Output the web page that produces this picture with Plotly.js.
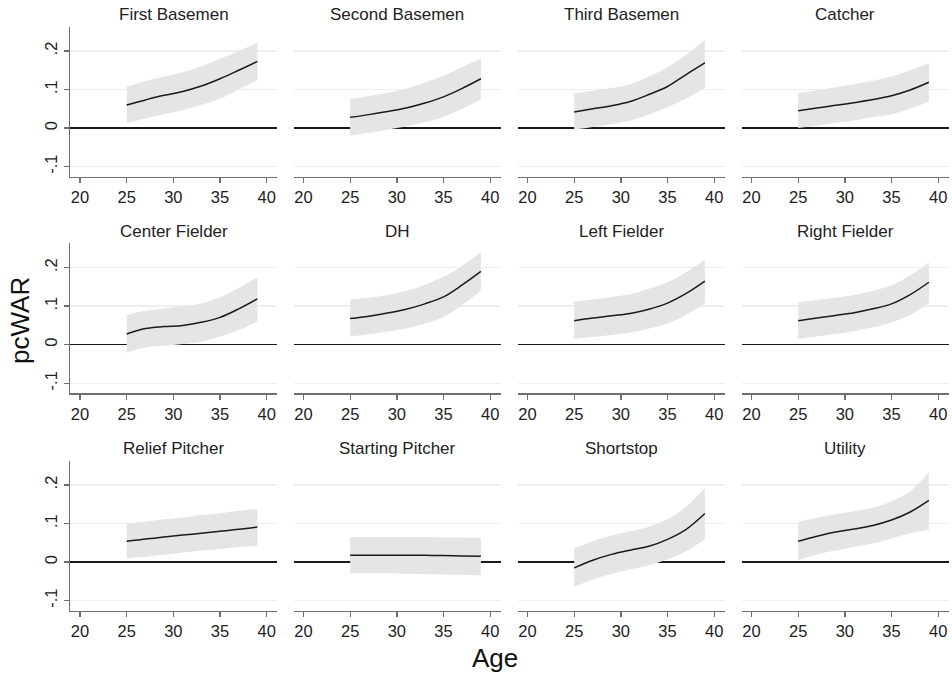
<!DOCTYPE html>
<html>
<head>
<meta charset="utf-8">
<script src="https://cdn.plot.ly/plotly-3.0.1.min.js"></script>
<style>
  html, body { margin: 0; padding: 0; background: #ffffff; }
  #chart { width: 952px; height: 679px; }
</style>
</head>
<body>
<div id="chart"></div>
<script>
// Predicted pcWAR by age, one panel per position, with 95% confidence band
const positions = [
  'First Basemen', 'Second Basemen', 'Third Basemen', 'Catcher',
  'Center Fielder', 'DH', 'Left Fielder', 'Right Fielder',
  'Relief Pitcher', 'Starting Pitcher', 'Shortstop', 'Utility'
];

const ages = [25, 27, 29, 31, 33, 35, 37, 39];

// Fitted values (rows follow `positions`)
const fitValues = [
  [0.060, 0.073, 0.085, 0.095, 0.109, 0.128, 0.150, 0.173],
  [0.028, 0.035, 0.043, 0.052, 0.065, 0.081, 0.103, 0.128],
  [0.042, 0.050, 0.058, 0.069, 0.087, 0.108, 0.139, 0.169],
  [0.045, 0.052, 0.059, 0.066, 0.074, 0.084, 0.099, 0.119],
  [0.028, 0.042, 0.047, 0.050, 0.058, 0.071, 0.093, 0.119],
  [0.068, 0.074, 0.082, 0.092, 0.106, 0.124, 0.155, 0.190],
  [0.062, 0.069, 0.075, 0.081, 0.092, 0.108, 0.133, 0.165],
  [0.062, 0.069, 0.076, 0.083, 0.093, 0.106, 0.130, 0.162],
  [0.054, 0.060, 0.065, 0.070, 0.075, 0.080, 0.085, 0.091],
  [0.018, 0.018, 0.018, 0.018, 0.018, 0.017, 0.016, 0.015],
  [-0.015, 0.005, 0.020, 0.031, 0.041, 0.059, 0.085, 0.126],
  [0.054, 0.067, 0.078, 0.086, 0.095, 0.109, 0.130, 0.160]
];

// Upper confidence limits
const upperValues = [
  [0.107, 0.122, 0.134, 0.145, 0.160, 0.180, 0.200, 0.222],
  [0.076, 0.083, 0.092, 0.102, 0.118, 0.136, 0.158, 0.181],
  [0.090, 0.097, 0.104, 0.114, 0.134, 0.158, 0.190, 0.229],
  [0.091, 0.098, 0.106, 0.114, 0.123, 0.134, 0.150, 0.169],
  [0.077, 0.088, 0.094, 0.099, 0.107, 0.123, 0.147, 0.175],
  [0.117, 0.122, 0.129, 0.139, 0.155, 0.176, 0.205, 0.240],
  [0.112, 0.118, 0.124, 0.131, 0.145, 0.162, 0.188, 0.221],
  [0.110, 0.116, 0.122, 0.129, 0.140, 0.154, 0.180, 0.214],
  [0.100, 0.105, 0.111, 0.116, 0.122, 0.127, 0.133, 0.138],
  [0.065, 0.065, 0.065, 0.065, 0.065, 0.064, 0.064, 0.063],
  [0.035, 0.054, 0.069, 0.080, 0.092, 0.111, 0.144, 0.193],
  [0.105, 0.115, 0.124, 0.132, 0.141, 0.158, 0.184, 0.234]
];

// Lower confidence limits
const lowerValues = [
  [0.013, 0.025, 0.036, 0.047, 0.060, 0.076, 0.100, 0.124],
  [-0.020, -0.012, -0.004, 0.004, 0.015, 0.029, 0.050, 0.075],
  [-0.004, 0.003, 0.010, 0.019, 0.035, 0.054, 0.077, 0.104],
  [0.000, 0.006, 0.013, 0.020, 0.028, 0.036, 0.050, 0.069],
  [-0.020, -0.007, -0.003, 0.002, 0.008, 0.021, 0.038, 0.061],
  [0.021, 0.027, 0.034, 0.042, 0.055, 0.072, 0.103, 0.140],
  [0.015, 0.020, 0.025, 0.031, 0.042, 0.055, 0.078, 0.106],
  [0.015, 0.021, 0.028, 0.035, 0.045, 0.058, 0.078, 0.106],
  [0.009, 0.014, 0.019, 0.025, 0.030, 0.034, 0.039, 0.043],
  [-0.029, -0.029, -0.029, -0.030, -0.031, -0.032, -0.033, -0.035],
  [-0.064, -0.045, -0.030, -0.019, -0.008, 0.007, 0.028, 0.059],
  [0.005, 0.020, 0.030, 0.039, 0.048, 0.061, 0.075, 0.083]
];

const yTickVals = [-0.1, 0, 0.1, 0.2];
const yTickText = ['-.1', '0', '.1', '.2'];
const xTickVals = [20, 25, 30, 35, 40];

// Panel geometry in pixels
const W = 952, H = 679;
const colLeft = [70, 293.5, 517.5, 741.5];
const panelW = 207;
const rowTop = [26.7, 243.3, 460.7];
const panelH = 150;

const FONT = 'Liberation Sans, Arial, sans-serif';
const AXIS_GREY = '#6e6e6e';
const BAND = '#e5e5e5';

const traces = [];
const layout = {
  width: W, height: H,
  margin: {l: 0, r: 0, t: 0, b: 0},
  paper_bgcolor: '#ffffff',
  plot_bgcolor: '#ffffff',
  showlegend: false,
  font: {family: FONT, color: '#222222'},
  annotations: []
};

positions.forEach((name, i) => {
  const row = Math.floor(i / 4), col = i % 4;
  const n = i + 1;
  const xa = 'x' + (n === 1 ? '' : n);
  const ya = 'y' + (n === 1 ? '' : n);
  const xKey = 'xaxis' + (n === 1 ? '' : n);
  const yKey = 'yaxis' + (n === 1 ? '' : n);

  const x0 = colLeft[col] / W, x1 = (colLeft[col] + panelW) / W;
  const y1 = 1 - rowTop[row] / H, y0 = 1 - (rowTop[row] + panelH) / H;

  layout[xKey] = {
    domain: [x0, x1], anchor: ya,
    range: [18.93, 41.1],
    tickvals: xTickVals,
    ticks: 'outside', ticklen: 5, tickwidth: 1.3, tickcolor: AXIS_GREY,
    showline: true, linecolor: AXIS_GREY, linewidth: 1.5,
    showgrid: false, zeroline: false,
    tickfont: {family: FONT, size: 16.5, color: '#222222'},
    fixedrange: true
  };
  const firstCol = col === 0;
  layout[yKey] = {
    domain: [y0, y1], anchor: xa,
    range: [-0.126, 0.263],
    tickvals: yTickVals, ticktext: yTickText,
    tickangle: -90,
    ticks: firstCol ? 'outside' : '', ticklen: 5, tickwidth: 1.3, tickcolor: AXIS_GREY,
    showticklabels: firstCol,
    showline: firstCol, linecolor: AXIS_GREY, linewidth: 1.5,
    showgrid: true, gridcolor: '#eeeeee', gridwidth: 1.5,
    zeroline: true, zerolinecolor: '#1a1a1a', zerolinewidth: 1.5,
    tickfont: {family: FONT, size: 16.5, color: '#222222'},
    fixedrange: true
  };

  traces.push({
    x: ages, y: lowerValues[i], xaxis: xa, yaxis: ya,
    type: 'scatter', mode: 'lines',
    line: {width: 0, shape: 'spline', smoothing: 1}, hoverinfo: 'skip'
  });
  traces.push({
    x: ages, y: upperValues[i], xaxis: xa, yaxis: ya,
    type: 'scatter', mode: 'lines', fill: 'tonexty', fillcolor: BAND,
    line: {width: 0, shape: 'spline', smoothing: 1}, hoverinfo: 'skip'
  });
  traces.push({
    x: ages, y: fitValues[i], xaxis: xa, yaxis: ya,
    type: 'scatter', mode: 'lines',
    line: {color: '#1a1a1a', width: 1.5, shape: 'spline', smoothing: 1}
  });

  layout.annotations.push({
    text: name, xref: 'paper', yref: 'paper',
    x: (colLeft[col] + panelW / 2) / W,
    y: 1 - (rowTop[row] - 12) / H,
    xanchor: 'center', yanchor: 'middle', showarrow: false,
    font: {family: FONT, size: 17, color: '#222222'}
  });
});

layout.annotations.push({
  text: 'pcWAR', xref: 'paper', yref: 'paper',
  x: 20 / W, y: 1 - 321 / H, textangle: -90,
  xanchor: 'center', yanchor: 'middle', showarrow: false,
  font: {family: FONT, size: 26, color: '#111111'}
});
layout.annotations.push({
  text: 'Age', xref: 'paper', yref: 'paper',
  x: 495 / W, y: 1 - 658 / H,
  xanchor: 'center', yanchor: 'middle', showarrow: false,
  font: {family: FONT, size: 26, color: '#111111'}
});

Plotly.newPlot('chart', traces, layout, {displayModeBar: false, staticPlot: true});
</script>
</body>
</html>
